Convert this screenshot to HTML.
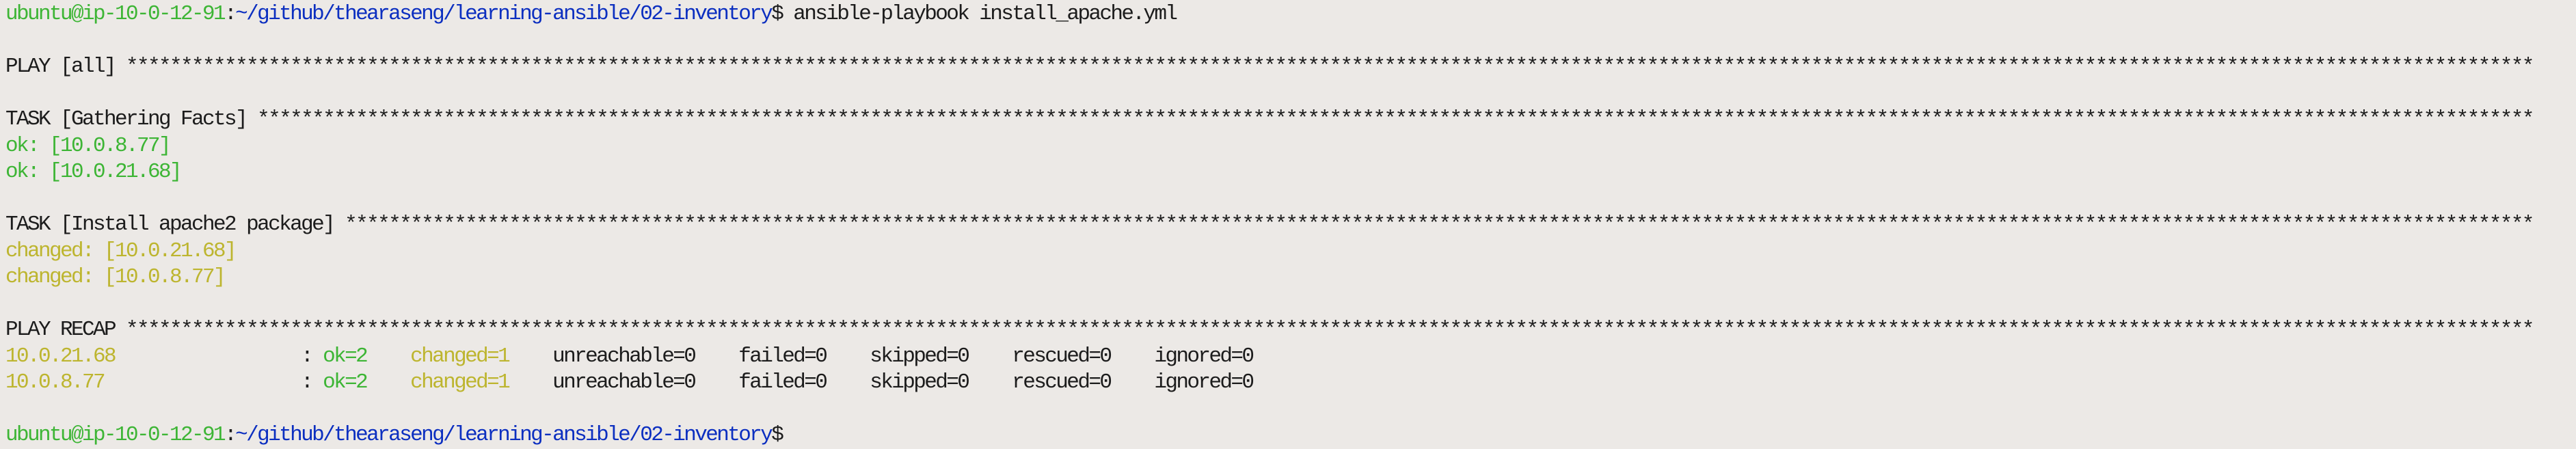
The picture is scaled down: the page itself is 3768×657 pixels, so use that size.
<!DOCTYPE html>
<html><head><meta charset="utf-8"><style>
html,body{margin:0;padding:0;background:#ece9e6;width:3768px;height:654px;overflow:hidden}
.t{position:absolute;left:8px;top:2px;font-family:"Liberation Mono","DejaVu Sans Mono",monospace;font-size:31px;letter-spacing:-2.6px;line-height:38.5px;color:#1c1c1c}
.l{height:38.5px;width:3696px;overflow:hidden;white-space:pre}
.g{color:#3db535}.b{color:#0c2fc0}.y{color:#bdb52f}
</style></head><body><div class="t"><div class="l"><span class="g">ubuntu@ip-10-0-12-91</span>:<span class="b">~/github/thearaseng/learning-ansible/02-inventory</span>$ ansible-playbook install_apache.yml</div><div class="l"> </div><div class="l">PLAY [all] ****************************************************************************************************************************************************************************************************************************************</div><div class="l"> </div><div class="l">TASK [Gathering Facts] ****************************************************************************************************************************************************************************************************************************************</div><div class="l g">ok: [10.0.8.77]</div><div class="l g">ok: [10.0.21.68]</div><div class="l"> </div><div class="l">TASK [Install apache2 package] ****************************************************************************************************************************************************************************************************************************************</div><div class="l y">changed: [10.0.21.68]</div><div class="l y">changed: [10.0.8.77]</div><div class="l"> </div><div class="l">PLAY RECAP ****************************************************************************************************************************************************************************************************************************************</div><div class="l"><span class="y">10.0.21.68</span>                 : <span class="g">ok=2</span>    <span class="y">changed=1</span>    unreachable=0    failed=0    skipped=0    rescued=0    ignored=0</div><div class="l"><span class="y">10.0.8.77</span>                  : <span class="g">ok=2</span>    <span class="y">changed=1</span>    unreachable=0    failed=0    skipped=0    rescued=0    ignored=0</div><div class="l"> </div><div class="l"><span class="g">ubuntu@ip-10-0-12-91</span>:<span class="b">~/github/thearaseng/learning-ansible/02-inventory</span>$</div></div></body></html>
